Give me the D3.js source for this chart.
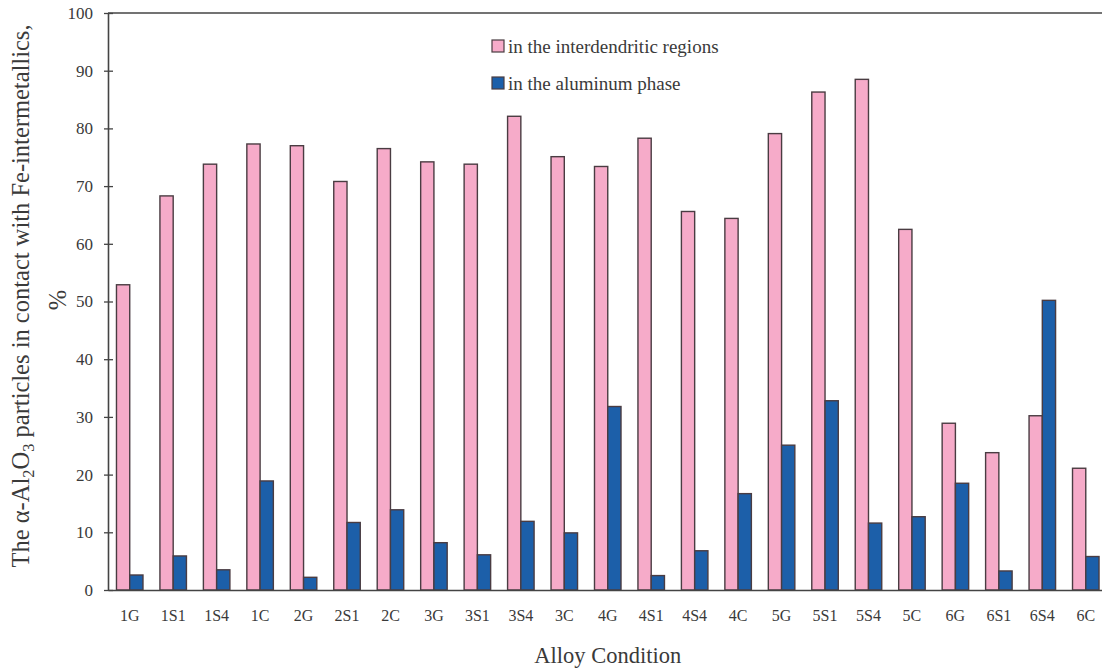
<!DOCTYPE html>
<html>
<head>
<meta charset="utf-8">
<script src="https://cdn.jsdelivr.net/npm/d3@7/dist/d3.min.js"></script>
<style>
  html, body { margin: 0; padding: 0; background: #ffffff; }
  svg { display: block; }
  svg text { font-family: "Liberation Serif", "Times New Roman", Times, serif !important; fill: #3a3a3a; }
</style>
</head>
<body>
<svg id="chart" width="1102" height="669" font-family="Liberation Serif"></svg>
<script>
// Alloy conditions along the x axis
const categories = ["1G", "1S1", "1S4", "1C", "2G", "2S1", "2C", "3G", "3S1", "3S4", "3C",
  "4G", "4S1", "4S4", "4C", "5G", "5S1", "5S4", "5C", "6G", "6S1", "6S4", "6C"];

// Share of α-Al2O3 particles touching Fe-intermetallics, %
const interdendritic = [52.9, 68.3, 73.8, 77.3, 77.0, 70.8, 76.5, 74.2, 73.8, 82.1, 75.1,
  73.4, 78.3, 65.6, 64.4, 79.1, 86.3, 88.5, 62.5, 28.9, 23.8, 30.2, 21.1];
const aluminumPhase = [2.6, 5.9, 3.5, 18.9, 2.2, 11.7, 13.9, 8.2, 6.1, 11.9, 9.9,
  31.8, 2.5, 6.8, 16.7, 25.1, 32.8, 11.6, 12.7, 18.5, 3.3, 50.2, 5.8];

const yTicks = [0, 10, 20, 30, 40, 50, 60, 70, 80, 90, 100];

const seriesNames = ["in the interdendritic regions", "in the aluminum phase"];
const seriesColors = ["#f6abc9", "#1c5fa9"];

const svg = d3.select("#chart");
const plotLeft = 108, plotRight = 1107.5, plotTop = 13, plotBottom = 590;

const y = d3.scaleLinear().domain([0, 100]).range([plotBottom, plotTop]);
const x0 = d3.scaleBand().domain(categories).range([plotLeft, plotRight])
  .paddingInner(0.39).paddingOuter(0.195);
const x1 = d3.scaleBand().domain([0, 1]).range([0, x0.bandwidth()]);

const rows = categories.map((c, i) => ({ cat: c, vals: [interdendritic[i], aluminumPhase[i]] }));

// bars
const groups = svg.append("g").selectAll("g").data(rows).join("g")
  .attr("transform", d => `translate(${x0(d.cat)},0)`);
groups.selectAll("rect").data(d => d.vals.map((v, k) => ({ v, k }))).join("rect")
  .attr("x", d => x1(d.k))
  .attr("y", d => y(d.v))
  .attr("width", x1.bandwidth())
  .attr("height", d => y(0) - y(d.v))
  .attr("fill", d => seriesColors[d.k])
  .attr("stroke", "#4a3c42")
  .attr("stroke-width", 1.4);

// top frame line
svg.append("line")
  .attr("x1", plotLeft).attr("x2", plotRight).attr("y1", y(100)).attr("y2", y(100))
  .attr("stroke", "#444").attr("stroke-width", 1.6);

// y axis
const yAxis = svg.append("g").attr("transform", `translate(${plotLeft},0)`)
  .call(d3.axisLeft(y).tickValues(yTicks).tickSizeInner(4).tickSizeOuter(0).tickPadding(11));
yAxis.attr("font-family", null);
yAxis.select(".domain").attr("stroke", "#444").attr("stroke-width", 1.6);
yAxis.selectAll(".tick line").attr("x1", 5).attr("stroke", "#444").attr("stroke-width", 1.3);
yAxis.selectAll(".tick text").style("font-size", "17px").attr("fill", "#3a3a3a");

// x axis
const xAxis = svg.append("g").attr("transform", `translate(0,${plotBottom})`)
  .call(d3.axisBottom(x0).tickSize(0).tickPadding(20));
xAxis.attr("font-family", null);
xAxis.select(".domain").attr("stroke", "#444").attr("stroke-width", 1.6);
xAxis.selectAll(".tick text").style("font-size", "16px").attr("fill", "#3a3a3a");

// axis titles
svg.append("text")
  .attr("x", (plotLeft + plotRight) / 2).attr("y", 663)
  .attr("text-anchor", "middle").style("font-size", "22.5px")
  .text("Alloy Condition");

const yTitle = svg.append("text")
  .attr("transform", "translate(29,296) rotate(-90)")
  .attr("text-anchor", "middle").style("font-size", "24.5px");
yTitle.append("tspan").text("The α-Al");
yTitle.append("tspan").attr("dy", 5).style("font-size", "16.5px").text("2");
yTitle.append("tspan").attr("dy", -5).text("O");
yTitle.append("tspan").attr("dy", 5).style("font-size", "16.5px").text("3");
yTitle.append("tspan").attr("dy", -5).text(" particles in contact with Fe-intermetallics,");

svg.append("text")
  .attr("transform", "translate(66,300) rotate(-90)")
  .attr("text-anchor", "middle").style("font-size", "24.5px")
  .text("%");

// legend
const legend = svg.append("g").attr("transform", "translate(492,0)");
const legendRows = legend.selectAll("g").data(seriesNames).join("g")
  .attr("transform", (d, i) => `translate(0,${46 + i * 37})`);
legendRows.append("rect")
  .attr("x", 0).attr("y", -6).attr("width", 12).attr("height", 12)
  .attr("fill", (d, i) => seriesColors[i])
  .attr("stroke", "#4a3c42").attr("stroke-width", 1.2);
legendRows.append("text")
  .attr("x", 16).attr("y", 0).attr("dy", "0.35em")
  .style("font-size", "19px")
  .text(d => d);
</script>
</body>
</html>
